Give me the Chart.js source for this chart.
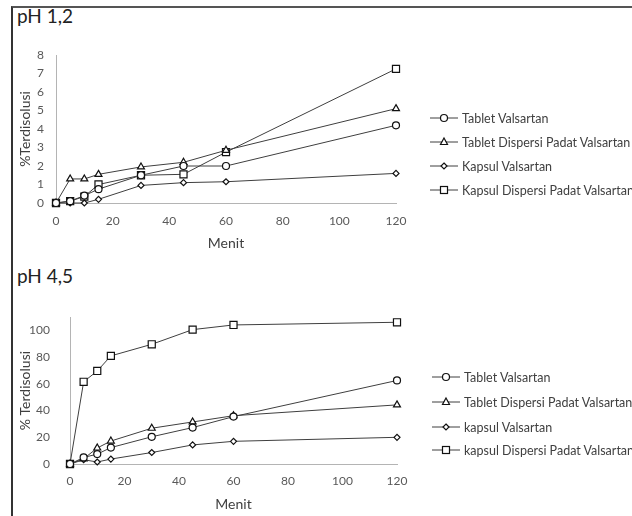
<!DOCTYPE html>
<html>
<head>
<meta charset="utf-8">
<script src="https://cdn.jsdelivr.net/npm/chart.js@4.4.1/dist/chart.umd.min.js"></script>
<style>
  html, body { margin: 0; padding: 0; background: #fff; }
  body { width: 632px; height: 516px; position: relative; overflow: hidden; font-family: Lato, "Open Sans", sans-serif; }
  .frame { position: absolute; left: 11px; top: 6px; width: 640px; height: 530px; border-left: 2px solid #333; border-top: 2px solid #555; }
  .title { position: absolute; left: 17px; font-size: 19px; line-height: 19px; color: #222; }
  .plot { position: absolute; left: 14px; width: 618px; }
  .legend { position: absolute; left: 0; top: 0; font-size: 12.5px; color: #404040; white-space: nowrap; }
  .legend .row { position: absolute; height: 14px; display: flex; align-items: center; }
  .legend svg { display: block; margin-right: 4px; }
</style>
</head>
<body>
<div class="frame"></div>
<div class="title" style="top:6px">pH 1,2</div>
<div class="title" style="top:266px">pH 4,5</div>
<div class="plot" style="top:30px;height:230px"><canvas id="chartPh12"></canvas></div>
<div class="plot" style="top:290px;height:226px"><canvas id="chartPh45"></canvas></div>
<div class="legend" id="legendPh12"></div>
<div class="legend" id="legendPh45"></div>
<script>
const minutes = [0, 5, 10, 15, 30, 45, 60, 120];
const xTickValues = [0, 20, 40, 60, 80, 100, 120];

// pH 1,2
const labelsPh12 = ['Tablet Valsartan', 'Tablet Dispersi Padat Valsartan', 'Kapsul Valsartan', 'Kapsul Dispersi Padat Valsartan'];
const tabletPh12 = [0, 0.1, 0.4, 0.75, 1.5, 2.0, 2.0, 4.2];
const tabletDispPh12 = [0, 1.3, 1.3, 1.55, 1.95, 2.2, 2.85, 5.1];
const kapsulPh12 = [0, 0, 0, 0.2, 0.95, 1.1, 1.15, 1.6];
const kapsulDispPh12 = [0, 0.1, 0.35, 1.0, 1.5, 1.55, 2.75, 7.25];
const yTicksPh12 = [0, 1, 2, 3, 4, 5, 6, 7, 8];

// pH 4,5
const labelsPh45 = ['Tablet Valsartan', 'Tablet Dispersi Padat Valsartan', 'kapsul Valsartan', 'kapsul Dispersi Padat Valsartan'];
const tabletPh45 = [0, 4.9, 7.4, 12.3, 20.4, 27.3, 35.5, 62.6];
const tabletDispPh45 = [0, 3.9, 12, 17.2, 26.8, 31.5, 36.2, 44.3];
const kapsulPh45 = [0, 3.2, 1.5, 3.7, 8.6, 14.3, 17, 20];
const kapsulDispPh45 = [0, 61.6, 69.7, 81, 89.7, 100.7, 104.2, 106.2];
const yTicksPh45 = [0, 20, 40, 60, 80, 100];

const markers = [
  { style: 'circle', radius: 3.5 },
  { style: 'triangle', radius: 4 },
  { style: 'rectRot', radius: 3 },
  { style: 'rect', radius: 5 },
];

const lineColor = '#3f3f3f';
const axisColor = '#b4b4b4';
const tickColor = '#595959';
const fontFamily = 'Lato, "Open Sans", sans-serif';

function buildChart(id, series, cfg) {
  const datasets = series.map((values, i) => ({
    label: cfg.labels[i],
    data: values.map((v, j) => ({ x: minutes[j], y: v })),
    borderColor: lineColor,
    borderWidth: 1,
    pointStyle: markers[i].style,
    pointRadius: markers[i].radius,
    pointHoverRadius: markers[i].radius,
    pointBackgroundColor: '#fff',
    pointBorderColor: '#111',
    pointBorderWidth: 1.2,
    tension: 0,
    clip: false,
  }));

  new Chart(document.getElementById(id), {
    type: 'line',
    data: { datasets },
    options: {
      responsive: true,
      maintainAspectRatio: false,
      animation: false,
      layout: { padding: { left: 0, top: cfg.padTop, right: cfg.padRight, bottom: 0 } },
      plugins: { legend: { display: false }, tooltip: { enabled: false } },
      scales: {
        x: {
          type: 'linear',
          min: 0,
          max: 120,
          grid: { display: false, drawTicks: false },
          border: { display: true, color: axisColor, width: 1 },
          ticks: { padding: cfg.xTickPad, color: tickColor, font: { family: fontFamily, size: 12 }, maxRotation: 0 },
          title: {
            display: true,
            text: 'Menit',
            color: '#404040',
            font: { family: fontFamily, size: 14 },
            padding: { top: 0, bottom: cfg.titlePadB },
          },
          afterBuildTicks: (s) => { s.ticks = xTickValues.map((v) => ({ value: v })); },
          afterFit: (s) => { s.height = cfg.xAxisHeight; },
        },
        y: {
          type: 'linear',
          min: 0,
          max: cfg.yMax,
          grid: { display: false, drawTicks: false },
          border: { display: true, color: axisColor, width: 1 },
          ticks: { padding: cfg.yTickPad, color: tickColor, font: { family: fontFamily, size: 12 } },
          title: {
            display: true,
            text: cfg.yTitle,
            color: '#404040',
            font: { family: fontFamily, size: 14 },
            padding: { top: 3, bottom: 0 },
          },
          afterBuildTicks: (s) => { s.ticks = cfg.yTicks.map((v) => ({ value: v })); },
          afterFit: (s) => { s.width = cfg.yAxisWidth; },
        },
      },
    },
  });
}

function markerSvg(style) {
  const common = 'fill="#fff" stroke="#111" stroke-width="1.2"';
  if (style === 'circle') return `<circle cx="14" cy="7" r="3.5" ${common}/>`;
  if (style === 'triangle') return `<polygon points="14,3 17.5,9.5 10.5,9.5" ${common}/>`;
  if (style === 'rectRot') return `<polygon points="14,4 17,7 14,10 11,7" ${common}/>`;
  return `<rect x="10.5" y="3.5" width="7" height="7" ${common}/>`;
}

function buildLegend(id, labels, left, rowsY) {
  const box = document.getElementById(id);
  box.innerHTML = labels.map((label, i) => (
    `<div class="row" style="left:${left}px;top:${rowsY[i] - 7}px">` +
    `<svg width="28" height="14"><line x1="0" y1="7" x2="28" y2="7" stroke="${lineColor}" stroke-width="1"/>${markerSvg(markers[i].style)}</svg>` +
    `<span>${label}</span></div>`
  )).join('');
}

buildChart('chartPh12', [tabletPh12, tabletDispPh12, kapsulPh12, kapsulDispPh12], {
  labels: labelsPh12,
  yTitle: '%Terdisolusi',
  yMax: 8,
  yTicks: yTicksPh12,
  yAxisWidth: 42,
  xAxisHeight: 57,
  padTop: 25,
  padRight: 236,
  yTickPad: 12,
  xTickPad: 11,
  titlePadB: 8.6,
});

buildChart('chartPh45', [tabletPh45, tabletDispPh45, kapsulPh45, kapsulDispPh45], {
  labels: labelsPh45,
  yTitle: '% Terdisolusi',
  yMax: 110,
  yTicks: yTicksPh45,
  yAxisWidth: 56,
  xAxisHeight: 52,
  padTop: 26,
  padRight: 235,
  yTickPad: 20,
  xTickPad: 10,
  titlePadB: 3.6,
});

buildLegend('legendPh12', labelsPh12, 430, [118, 142, 166, 190]);
buildLegend('legendPh45', labelsPh45, 432, [377, 402, 427, 450]);
</script>
</body>
</html>
